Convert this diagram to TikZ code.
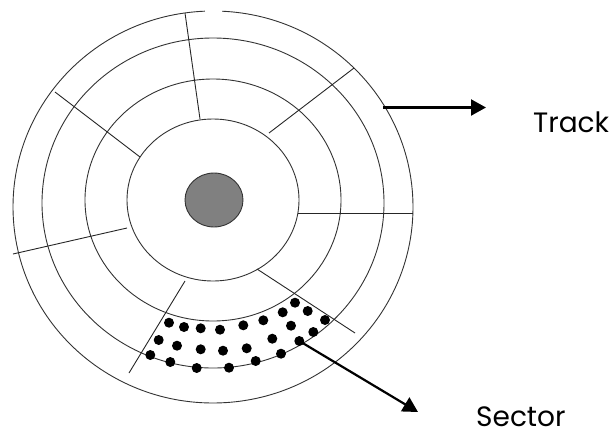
\documentclass[tikz,border=0pt]{standalone}
\usepackage{fontspec}
\setmainfont{Poppins}
\usetikzlibrary{arrows.meta}
\definecolor{hubGray}{RGB}{128,128,128}

\begin{document}
\begin{tikzpicture}[
  x=1pt, y=-1pt,
  %% Track rings
  ring/.style={draw=black!80, line width=0.9pt},
  %% Sector dividers
  divider/.style={draw=black!85, line width=0.9pt},
  %% Bits in the marked sector
  bit/.style={fill=black},
  %% Label pointers
  pointer/.style={-{Triangle[length=15pt,width=16pt]}, line width=2.2pt},
  lbl/.style={font=\fontsize{28}{30}\selectfont, inner sep=0pt, anchor=base west}
]
\useasboundingbox (0,0) rectangle (610,437);

%% ---- Spindle hub ----
\draw[fill=hubGray, draw=black!80, line width=0.9pt]
  (214,200) ellipse [x radius=29pt, y radius=27pt];

%% ---- Tracks ----
\draw[ring] (213,200) ellipse [x radius=86pt, y radius=81pt];
\draw[ring] (213,200) ellipse [x radius=128pt, y radius=121pt];
\draw[ring] (213,203) ellipse [x radius=171pt, y radius=165pt];
\draw[ring] ([shift={(92.3:200pt and 196pt)}]213,207)
  arc[start angle=92.3, end angle=447.4, x radius=200pt, y radius=196pt];

%% ---- Sector dividers ----
\draw[divider] (185,13)  -- (200,119);
\draw[divider] (354,68)  -- (269,133);
\draw[divider] (55,92)   -- (140,157);
\draw[divider] (298,213) -- (413,213);
\draw[divider] (13,254)  -- (127,228);
\draw[divider] (257,269) -- (355,333);
\draw[divider] (185,281) -- (129,373);

%% ---- Bits ----
\foreach \p in {(169,322.7),(184,327),(200.7,328.3),(220,329.7),(243.3,325.3),
                (263.3,320.3),(282.7,312.3),(295,302.7),(307.7,311),(325,320),
                (291,325.7),(313.3,332),(272.3,338.7),(299.3,341),(158.7,340),
                (177,345.7),(200.7,349.3),(223,350.7),(246.7,348.3),(281,353.7),
                (150.3,355),(170.3,362),(196.7,368),(229,367.7),(255.7,361)}
  \fill[bit] \p circle[radius=5pt];

%% ---- Labels ----
\node[lbl] (track)  at (533,132) {Track};
\node[lbl] (sector) at (476,426) {Sector};

\coordinate (trackfoot)  at (383,107.5);
\coordinate (trackhead)  at (486,107.5);
\coordinate (sectorfoot) at (299.3,341);
\coordinate (sectorhead) at (418,412);

\draw[pointer] (trackfoot)  -- (trackhead);
\draw[pointer] (sectorfoot) -- (sectorhead);

\end{tikzpicture}
\end{document}
